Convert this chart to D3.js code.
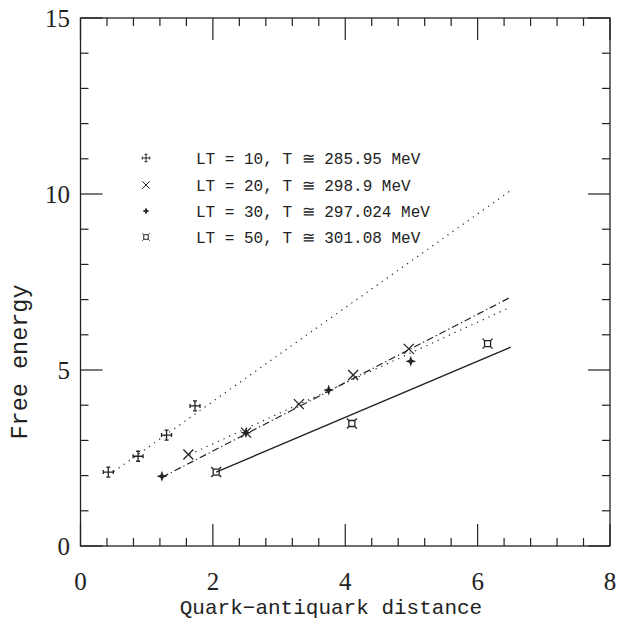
<!DOCTYPE html>
<html>
<head>
<meta charset="utf-8">
<script src="https://cdn.jsdelivr.net/npm/d3@7"></script>
<style>
  body { margin: 0; background: #fff; }
  svg { display: block; }
</style>
</head>
<body>
<svg id="chart" width="618" height="620"></svg>
<script>
/// Data

var lt10X = [0.42, 0.87, 1.30, 1.73];
var lt10Y = [2.10, 2.55, 3.15, 3.98];

var lt20X = [1.63, 2.50, 3.30, 4.12, 4.96];
var lt20Y = [2.60, 3.22, 4.03, 4.86, 5.60];

var lt30X = [1.23, 2.50, 3.75, 4.99];
var lt30Y = [1.98, 3.22, 4.43, 5.25];

var lt50X = [2.05, 4.10, 6.15];
var lt50Y = [2.10, 3.48, 5.75];

// fit lines, two ends each
var fit10X = [0.50, 6.50], fit10Y = [2.11, 10.10];
var fit20X = [1.65, 6.50], fit20Y = [2.60, 6.79];
var fit30X = [1.23, 6.50], fit30Y = [1.95, 7.07];
var fit50X = [2.05, 6.50], fit50Y = [2.10, 5.65];

var legendLabels = [
  "LT = 10, T \u2245 285.95 MeV",
  "LT = 20, T \u2245 298.9 MeV",
  "LT = 30, T \u2245 297.024 MeV",
  "LT = 50, T \u2245 301.08 MeV"
];

var xTicks = [0, 2, 4, 6, 8];
var yTicks = [0, 5, 10, 15];

/// Layout

var frameL = 80.5, frameR = 610, frameT = 18, frameB = 546;
var ink = "#222";

var svg = d3.select("#chart");
var x = d3.scaleLinear().domain([0, 8]).range([frameL, frameR]);
var y = d3.scaleLinear().domain([0, 15]).range([frameB, frameT]);

// symbols (pixel glyphs)
var glyphs = {
  errcross: "M-5,0H5M0,-5V5M-5,-2V2M5,-2V2M-2,-5H2M-2,5H2",
  cross: "M-5,-5L5,5M-5,5L5,-5",
  star: "M0,-3.5L0.9,-0.9L3.5,0L0.9,0.9L0,3.5L-0.9,0.9L-3.5,0L-0.9,-0.9Z",
  box: "M-3,-3H3V3H-3ZM-3,-3L-5,-5M3,-3L5,-5M3,3L5,5M-3,3L-5,5"
};

function zip(xs, ys){
  return xs.map(function(v, i){ return [v, ys[i]]; });
}

/// Frame and ticks

svg.append("rect")
  .attr("x", frameL).attr("y", frameT)
  .attr("width", frameR - frameL).attr("height", frameB - frameT)
  .attr("fill", "none").attr("stroke", ink).attr("stroke-width", 1.3);

var xMinor = d3.range(0, 8.001, 0.4);
var yMinor = d3.range(0, 15.001, 1);
var g = svg.append("g").attr("stroke", ink).attr("stroke-width", 1.2);

xMinor.forEach(function(v){
  var major = Math.abs(v / 2 - Math.round(v / 2)) < 1e-6;
  var len = major ? 22 : 8;
  g.append("line").attr("x1", x(v)).attr("x2", x(v)).attr("y1", frameB).attr("y2", frameB - len);
  g.append("line").attr("x1", x(v)).attr("x2", x(v)).attr("y1", frameT).attr("y2", frameT + len);
});
yMinor.forEach(function(v){
  var major = v % 5 == 0;
  var len = major ? 22 : 8;
  g.append("line").attr("y1", y(v)).attr("y2", y(v)).attr("x1", frameL).attr("x2", frameL + len);
  g.append("line").attr("y1", y(v)).attr("y2", y(v)).attr("x1", frameR).attr("x2", frameR - len);
});

// tick labels
svg.selectAll(".xl").data(xTicks).enter().append("text")
  .attr("x", function(d){ return x(d); })
  .attr("y", 590)
  .attr("text-anchor", "middle")
  .attr("font-family", "Liberation Serif")
  .attr("font-size", 25)
  .attr("fill", ink)
  .text(function(d){ return d; });

svg.selectAll(".yl").data(yTicks).enter().append("text")
  .attr("x", 70)
  .attr("y", function(d){ return y(d) + 8.5; })
  .attr("text-anchor", "end")
  .attr("font-family", "Liberation Serif")
  .attr("font-size", 25)
  .attr("fill", ink)
  .text(function(d){ return d; });

// axis titles
svg.append("text")
  .attr("x", 331).attr("y", 614)
  .attr("text-anchor", "middle")
  .attr("font-family", "Liberation Mono")
  .attr("font-size", 21)
  .attr("fill", ink)
  .text("Quark\u2212antiquark distance");

svg.append("text")
  .attr("transform", "translate(27,362) rotate(-90)")
  .attr("text-anchor", "middle")
  .attr("font-family", "Liberation Mono")
  .attr("font-size", 23.5)
  .attr("fill", ink)
  .text("Free energy");

/// Fit lines

var line = d3.line().x(function(d){ return x(d[0]); }).y(function(d){ return y(d[1]); });

svg.append("path").datum(zip(fit10X, fit10Y)).attr("d", line)
  .attr("fill", "none").attr("stroke", ink).attr("stroke-width", 1.2)
  .attr("stroke-dasharray", "1.2,5");
svg.append("path").datum(zip(fit20X, fit20Y)).attr("d", line)
  .attr("fill", "none").attr("stroke", ink).attr("stroke-width", 1.2)
  .attr("stroke-dasharray", "1.2,5");
svg.append("path").datum(zip(fit30X, fit30Y)).attr("d", line)
  .attr("fill", "none").attr("stroke", ink).attr("stroke-width", 1.2)
  .attr("stroke-dasharray", "7,3,1.2,3");
svg.append("path").datum(zip(fit50X, fit50Y)).attr("d", line)
  .attr("fill", "none").attr("stroke", ink).attr("stroke-width", 1.3);

/// Points

function drawPoints(xs, ys, glyph, filled){
  svg.selectAll(null).data(zip(xs, ys)).enter().append("path")
    .attr("transform", function(d){ return "translate(" + x(d[0]) + "," + y(d[1]) + ")"; })
    .attr("d", glyphs[glyph])
    .attr("fill", filled ? ink : "none")
    .attr("stroke", ink)
    .attr("stroke-width", 1.3);
}

drawPoints(lt10X, lt10Y, "errcross", false);
drawPoints(lt20X, lt20Y, "cross", false);
drawPoints(lt30X, lt30Y, "star", true);
drawPoints(lt50X, lt50Y, "box", false);

/// Legend

var legendGlyphs = ["errcross", "cross", "star", "box"];
var legendRows = [158, 185, 211, 237];

legendLabels.forEach(function(label, i){
  svg.append("path")
    .attr("transform", "translate(146," + legendRows[i] + ") scale(0.75)")
    .attr("d", glyphs[legendGlyphs[i]])
    .attr("fill", legendGlyphs[i] == "star" ? ink : "none")
    .attr("stroke", ink)
    .attr("stroke-width", 1.3);
  svg.append("text")
    .attr("x", 196).attr("y", legendRows[i] + 5.5)
    .attr("font-family", "Liberation Mono")
    .attr("font-size", 16)
    .attr("fill", ink)
    .text(label);
});
</script>
</body>
</html>
